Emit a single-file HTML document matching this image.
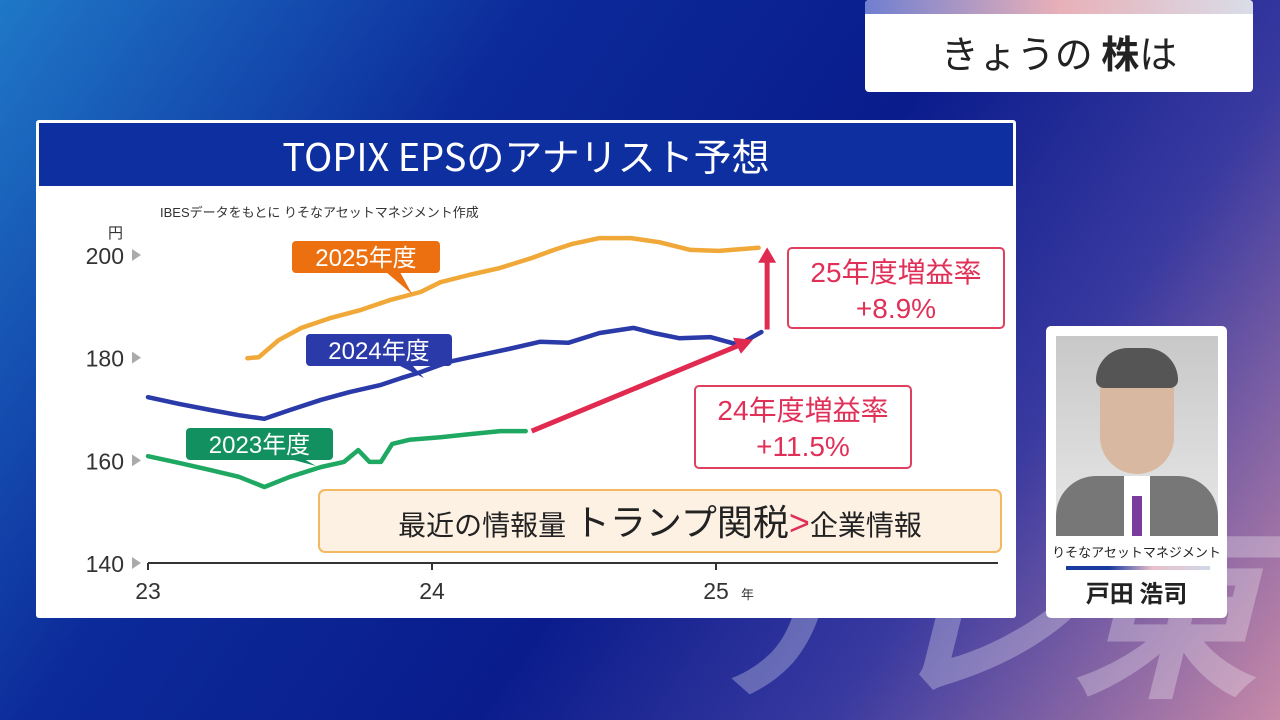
<!DOCTYPE html>
<html style="width:1280px;height:720px;overflow:hidden"><head><meta charset="utf-8">
<style>
html,body{margin:0;width:1280px;height:720px;overflow:hidden}
body{font-family:"Liberation Sans","Noto Sans CJK JP",sans-serif;
background:linear-gradient(125deg,#1f78c8 0%,#0c2a9a 30%,#0a1c8c 55%,#3a3aa0 75%,#c88aa8 100%);position:relative}
.abs{position:absolute}
</style></head><body>
<div class="abs" style="left:690px;top:505px;width:590px;height:215px;overflow:hidden;white-space:nowrap;font-size:190px;font-weight:bold;color:rgba(255,255,255,0.28);font-style:italic;font-family:'Noto Sans CJK JP',sans-serif;line-height:1">テレ東</div>
<div class="abs" style="left:865px;top:0;width:388px;height:92px;background:#fff;border-radius:4px;overflow:hidden">
 <div style="height:14px;background:linear-gradient(90deg,#6f7fd0,#e8b0b8,#d9dde8)"></div>
 <div style="text-align:center;font-size:38px;color:#222;line-height:76px;font-family:'Noto Sans CJK JP',sans-serif">きょうの <b>株</b>は</div>
</div>
<div class="abs" style="left:36px;top:120px;width:980px;height:498px;background:#fff;border-radius:3px">
 <div style="position:absolute;left:3px;top:3px;width:974px;height:63px;background:#0e2f9f;color:#fff;font-size:38px;text-align:center;line-height:63px;font-family:'Noto Sans CJK JP',sans-serif">TOPIX EPSのアナリスト予想</div>
</div>
<svg class="abs" style="left:0;top:0" width="1280" height="720" id="svg"></svg>
<div class="abs" style="left:1046px;top:326px;width:181px;height:292px;background:#fff;border-radius:5px">
 <div style="position:absolute;left:10px;top:10px;width:162px;height:200px;background:linear-gradient(#c8c8c8,#e8e8e8);overflow:hidden">
  <div style="position:absolute;left:0;bottom:0;width:162px;height:60px;background:#777;border-radius:40px 40px 0 0"></div>
  <div style="position:absolute;left:68px;bottom:0;width:26px;height:60px;background:#fff"></div>
  <div style="position:absolute;left:76px;bottom:0;width:10px;height:40px;background:#7a3b9a"></div>
  <div style="position:absolute;left:44px;top:20px;width:74px;height:118px;background:#d8b8a0;border-radius:36px 36px 40px 40px"></div>
  <div style="position:absolute;left:40px;top:12px;width:82px;height:40px;background:#555;border-radius:40px 40px 10px 10px"></div>
 </div>
 <div style="position:absolute;left:0;top:216px;width:181px;text-align:center;font-size:13px;color:#222;font-family:'Noto Sans CJK JP',sans-serif">りそなアセットマネジメント</div>
 <div style="position:absolute;left:20px;top:240px;width:144px;height:4px;background:linear-gradient(90deg,#1a3aa0 30%,#e8c0c8 60%,#d0d8e8)"></div>
 <div style="position:absolute;left:0;top:248px;width:181px;text-align:center;font-size:24px;font-weight:bold;color:#222;font-family:'Noto Sans CJK JP',sans-serif">戸田 浩司</div>
</div>
<script>
const yTicks=[140,160,180,200];
const xTicks=[23,24,25];
const xTickLabels=["23","24","25"];
const fy2024T=[23.0,23.11,23.22,23.32,23.41,23.5,23.61,23.71,23.82,23.89,23.96,24.06,24.17,24.27,24.38,24.48,24.59,24.71,24.78,24.87,24.98,25.08,25.16];
const fy2024V=[172.3,171.0,169.8,168.8,168.1,169.8,171.8,173.3,174.7,176.0,177.2,179.2,180.5,181.7,183.1,182.9,184.8,185.8,184.8,183.8,184.0,182.5,185.0];
const fy2025T=[23.35,23.39,23.46,23.54,23.64,23.75,23.85,23.96,24.03,24.13,24.24,24.35,24.43,24.49,24.59,24.70,24.80,24.91,25.01,25.15];
const fy2025V=[179.9,180.1,183.4,185.8,187.7,189.3,191.2,192.8,194.7,196.1,197.5,199.4,201.0,202.1,203.3,203.3,202.5,201.0,200.8,201.4];
const fy2023T=[23.0,23.11,23.22,23.32,23.41,23.5,23.61,23.69,23.74,23.78,23.82,23.86,23.92,24.03,24.13,24.24,24.33];
const fy2023V=[160.8,159.5,158.1,156.8,154.8,156.8,158.7,159.7,162.0,159.7,159.7,163.2,164.0,164.5,165.1,165.7,165.7];
const X=t=>148+(t-23)*284;
const Y=v=>563-(v-140)*5.133;
const svg=document.getElementById('svg');
const NS='http://www.w3.org/2000/svg';
function mk(tag,attrs,parent){const e=document.createElementNS(NS,tag);for(const k in attrs)e.setAttribute(k,attrs[k]);(parent||svg).appendChild(e);return e;}
function txt(s,x,y,size,fill,anchor,name){const t=mk('text',{x:x,y:y,'font-size':size,fill:fill,'text-anchor':anchor||'start','font-family':'Liberation Sans, Noto Sans CJK JP, sans-serif'});t.textContent=s;


return t;}
txt('IBESデータをもとに りそなアセットマネジメント作成',160,217,13,'#333','start','source-note');
txt('円',108,238,15,'#333','start','y-unit');
yTicks.forEach(v=>{
 const t=txt(String(v),124,Y(v)+9,23,'#333','end','y-tick-label');
 const p=mk('path',{d:`M132 ${Y(v)-6} L141 ${Y(v)} L132 ${Y(v)+6} Z`,fill:'#aaa'});
 
 
});
const ax=mk('line',{x1:148,y1:563,x2:998,y2:563,stroke:'#333','stroke-width':2});


xTicks.forEach((v,i)=>{
 const l=mk('line',{x1:X(v),y1:563,x2:X(v),y2:570,stroke:'#333','stroke-width':2});
 
 
 txt(xTickLabels[i],X(v),599,23,'#333','middle','x-tick-label');
});
txt('年',741,599,13,'#333','start','x-unit');
function series(T,V,color,name){
 const d=T.map((t,i)=>(i?'L':'M')+X(t).toFixed(1)+' '+Y(V[i]).toFixed(1)).join(' ');
 const p=mk('path',{d:d,fill:'none',stroke:color,'stroke-width':4.5,'stroke-linejoin':'round','stroke-linecap':'round'});
 
 
}
series(fy2023T,fy2023V,'#1fa862','line-fy2023');
series(fy2024T,fy2024V,'#2a3aa8','line-fy2024');
series(fy2025T,fy2025V,'#f0a838','line-fy2025');
const a1x1=X(fy2023T[fy2023T.length-1])+6,a1y1=Y(fy2023V[fy2023V.length-1]);
const a1x2=X(25.13),a1y2=Y(183.5);
const ar=mk('line',{x1:a1x1,y1:a1y1,x2:a1x2-10,y2:a1y2+4,stroke:'#e02a50','stroke-width':5});


mk('path',{d:`M${a1x2} ${a1y2} L${a1x2-20} ${a1y2-2} L${a1x2-12} ${a1y2+14} Z`,fill:'#e02a50'});
const vx=X(25.18);
const ar2=mk('line',{x1:vx,y1:Y(185.5),x2:vx,y2:Y(199),stroke:'#e02a50','stroke-width':5});


mk('path',{d:`M${vx-9} ${Y(198.5)} L${vx+9} ${Y(198.5)} L${vx} ${Y(201.5)} Z`,fill:'#e02a50'});
function tag(x,y,w,s,col,px,py,name){
 const g=mk('g',{});
 
 
 mk('rect',{x:x,y:y,width:w,height:32,rx:4,fill:col},g);
 mk('path',{d:`M${px-12} ${y+31} L${px+2} ${y+31} L${px+14} ${py} Z`,fill:col},g);
 const t=mk('text',{x:x+w/2,y:y+25,'font-size':24,fill:'#fff','text-anchor':'middle','font-family':'Liberation Sans, Noto Sans CJK JP, sans-serif'},g);t.textContent=s;
}
tag(292,241,148,'2025年度','#ec7010',398,294,'label-fy2025');
tag(306,334,146,'2024年度','#2a3aa8',410,378,'label-fy2024');
tag(186,428,147,'2023年度','#129060',302,466,'label-fy2023');
function box(x,y,w,h,l1,l2,name){
 const g=mk('g',{});
 
 
 mk('rect',{x:x,y:y,width:w,height:h,rx:4,fill:'#fff',stroke:'#e04060','stroke-width':2},g);
 [l1,l2].forEach((s,i)=>{const t=mk('text',{x:x+w/2,y:y+34+i*36,'font-size':28,fill:'#e03058','text-anchor':'middle','font-family':'Liberation Sans, Noto Sans CJK JP, sans-serif'},g);t.textContent=s;});
}
box(788,248,216,80,'25年度増益率','+8.9%','callout-fy2025-growth');
box(695,386,216,82,'24年度増益率','+11.5%','callout-fy2024-growth');
const g=mk('g',{});


mk('rect',{x:319,y:490,width:682,height:62,rx:6,fill:'#fdf1e4',stroke:'#f4b860','stroke-width':2},g);
const bt=mk('text',{x:660,y:535,'font-size':28,fill:'#222','text-anchor':'middle','font-family':'Liberation Sans, Noto Sans CJK JP, sans-serif'},g);
bt.innerHTML='最近の情報量 <tspan font-size="36">トランプ関税</tspan><tspan fill="#e03058" font-size="36">&gt;</tspan>企業情報';
</script>
</body></html>
